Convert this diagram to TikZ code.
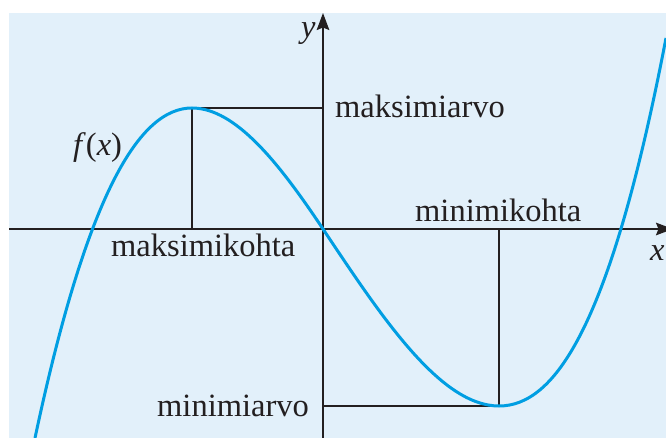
\documentclass[tikz,border=0pt]{standalone}
\usepackage{fontspec}
\setmainfont{Liberation Serif}
\usetikzlibrary{arrows.meta}
\definecolor{bgblue}{RGB}{226,240,250}
\definecolor{curveblue}{RGB}{0,158,226}
\definecolor{ink}{RGB}{35,31,32}
\begin{document}
\begin{tikzpicture}[x=1pt,y=-1pt,
  axisline/.style={draw=ink,line width=2pt,-{Stealth[length=17pt,width=12.5pt,inset=2.5pt]}},
  guide/.style={draw=ink,line width=2pt},
  graph/.style={draw=curveblue,line width=3pt},
  lbl/.style={anchor=base west,inner sep=0pt,text=ink,font=\fontsize{32.5}{38}\selectfont}]
\useasboundingbox (0,0) rectangle (666,438);
\clip (0,0) rectangle (666,438);
\fill[bgblue] (9,13) rectangle (666,438);
% key points
\coordinate (O) at (323,229);
\coordinate (xs) at (9,229);
\coordinate (xe) at (673,229);
\coordinate (ys) at (323,438);
\coordinate (ye) at (323,13);
\coordinate (max) at (192,108);
\coordinate (min) at (499,406);
\coordinate (maxx) at (192,229);
\coordinate (maxy) at (323,108);
\coordinate (minx) at (499,229);
\coordinate (miny) at (323,406);
\coordinate (cstart) at (35,438);
\coordinate (cend) at (666,38);
% guide lines
\draw[guide] (maxx) -- (max) -- (maxy);
\draw[guide] (minx) -- (min) -- (miny);
% axes
\draw[axisline] (xs) -- (xe);
\draw[axisline] (ys) -- (ye);
% graph
\draw[graph] (cstart) .. controls (87.33,192) and (139.67,108) .. (max)
  .. controls (235.67,108) and (279.33,163.5) .. (O)
  .. controls (381.67,317) and (440.33,406) .. (min)
  .. controls (554.67,406) and (610.33,327.5) .. (cend);
% labels
\node[lbl] (ylab) at (301,38) {\textit{y}};
\node[lbl] (xlab) at (650,261) {\textit{x}};
\node[lbl] (flab) at (73,156) {\textit{f}(\textit{x})};
\node[lbl] (maxval) at (335,118) {maksimiarvo};
\node[lbl] (minpos) at (415,222) {minimikohta};
\node[lbl] (maxpos) at (111,257) {maksimikohta};
\node[lbl] (minval) at (157,416) {minimiarvo};
\end{tikzpicture}
\end{document}
